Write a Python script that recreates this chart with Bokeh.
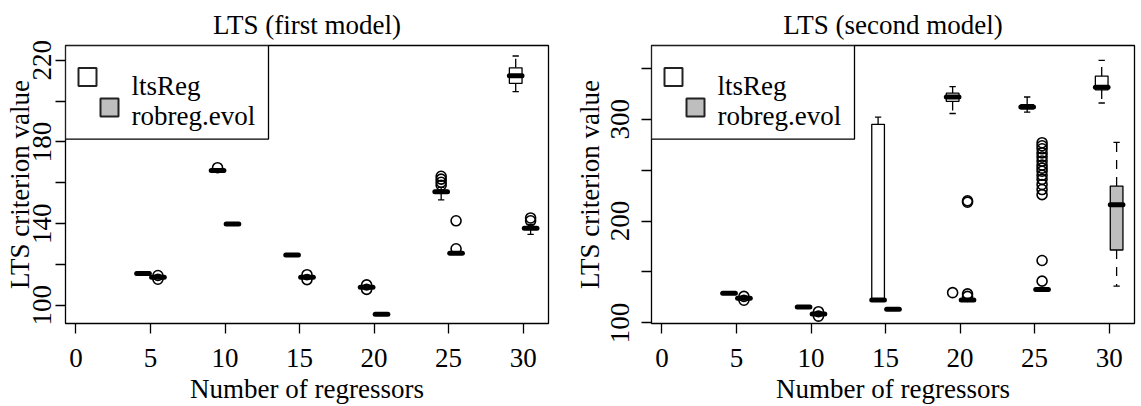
import math
from bokeh.plotting import figure
from bokeh.layouts import row
from bokeh.models import Range1d, FixedTicker, ColumnDataSource
from bokeh.transform import dodge
from bokeh.embed import file_html
from bokeh.resources import INLINE
from bokeh.core.properties import value

# ---------------- data ----------------
regressors = [5, 10, 15, 20, 25, 30]
series_names = ["ltsReg", "robreg.evol"]
titles = ["LTS (first model)", "LTS (second model)"]
x_label = "Number of regressors"
y_label = "LTS criterion value"
x_ticks = [0, 5, 10, 15, 20, 25, 30]

# first model, ltsReg
m1_lts_low = [115.5, 165.8, 124.5, 108.7, 151.6, 204.7]
m1_lts_q1 = [115.55, 165.9, 124.55, 108.8, 155.0, 208.7]
m1_lts_med = [115.6, 166.0, 124.6, 108.9, 155.6, 212.4]
m1_lts_q3 = [115.65, 166.1, 124.65, 109.0, 156.3, 216.3]
m1_lts_up = [115.7, 166.2, 124.7, 109.1, 157.8, 222.1]
m1_lts_out = [[], [167.4], [], [110.0, 107.8], [158.8, 160.3, 161.8, 163.2], []]
# first model, robreg.evol
m1_rob_low = [113.3, 139.7, 113.4, 95.5, 125.2, 134.7]
m1_rob_q1 = [113.5, 139.75, 113.6, 95.55, 125.4, 137.2]
m1_rob_med = [113.7, 139.8, 113.7, 95.6, 125.5, 137.8]
m1_rob_q3 = [113.9, 139.85, 113.8, 95.65, 125.7, 138.5]
m1_rob_up = [114.1, 139.9, 114.0, 95.7, 125.9, 139.6]
m1_rob_out = [[114.6, 112.8], [], [115.0, 112.6], [], [127.7, 141.4], [141.4, 142.8]]

# second model, ltsReg
m2_lts_low = [128.8, 115.3, 122.4, 305.7, 307.0, 316.0]
m2_lts_q1 = [128.9, 115.4, 122.6, 317.6, 310.2, 328.9]
m2_lts_med = [129.0, 115.5, 122.6, 321.9, 312.2, 331.5]
m2_lts_q3 = [129.1, 115.6, 295.1, 325.7, 314.4, 342.5]
m2_lts_up = [129.2, 115.7, 302.1, 332.1, 321.9, 357.9]
m2_lts_out = [[], [], [], [129.7], [], []]
# second model, robreg.evol
m2_rob_low = [123.6, 108.0, 113.3, 122.2, 132.5, 136.2]
m2_rob_q1 = [123.9, 108.4, 113.4, 122.4, 132.7, 171.6]
m2_rob_med = [124.2, 108.7, 113.5, 122.6, 132.9, 216.1]
m2_rob_q3 = [124.5, 109.0, 113.6, 122.8, 133.1, 234.4]
m2_rob_up = [124.8, 109.4, 113.7, 123.0, 133.3, 277.4]
m2_rob_out = [[126.0, 122.3], [111.0, 106.6], [], [126.0, 128.5, 218.6, 220.0],
              [141.0, 161.3, 226.0, 231.0, 236.0, 241.0, 245.0, 249.0, 252.0,
               255.0, 259.0, 263.0, 267.0, 271.0, 274.0, 277.0], []]

m1_y_range = (91.1, 227.25)
m2_y_range = (99.4, 372.5)
m1_y_ticks = [100, 120, 140, 160, 180, 200, 220]
m1_y_labels = [100, 140, 180, 220]
m2_y_ticks = [100, 150, 200, 250, 300, 350]
m2_y_labels = [100, 200, 300]

# ---------------- style ----------------
FONT = "Liberation Serif"
FS = "27px"
X_RANGE = (-0.7, 31.7)
FRAME_W, FRAME_H = 483, 282
BOX_W = 0.85
FILLS = ["white", "#bebebe"]
OFFSETS = [-0.5, 0.5]


def make_plot(title, stats, y_range, y_ticks, y_labels, width, bl, br,
              ylab_standoff, ytick_standoff):
    p = figure(width=width, height=406, x_range=Range1d(*X_RANGE),
               y_range=Range1d(*y_range), output_backend="svg",
               toolbar_location=None, min_border_left=bl, min_border_right=br,
               min_border_top=45, min_border_bottom=79)
    ppx = FRAME_W / (X_RANGE[1] - X_RANGE[0])
    ppy = FRAME_H / (y_range[1] - y_range[0])

    def dx(px):  # frame-left pixel offset -> data x
        return X_RANGE[0] + px / ppx

    def dy(px):  # frame-top pixel offset -> data y
        return y_range[1] - px / ppy

    p.title.text = title
    p.title.align = "center"
    p.title.text_font = FONT
    p.title.text_font_size = FS
    p.title.text_font_style = "normal"
    p.title.text_color = "black"
    p.title.standoff = 11

    p.xgrid.visible = False
    p.ygrid.visible = False
    p.outline_line_color = "black"
    p.outline_line_width = 1.3
    p.background_fill_color = "white"
    p.border_fill_color = "white"

    p.xaxis.ticker = FixedTicker(ticks=x_ticks)
    p.yaxis.ticker = FixedTicker(ticks=y_ticks)
    p.yaxis.major_label_overrides = {t: "" for t in y_ticks if t not in y_labels}
    for ax in (p.xaxis[0], p.yaxis[0]):
        ax.axis_line_color = None
        ax.major_tick_line_color = "black"
        ax.major_tick_line_width = 1.3
        ax.major_tick_out = 10
        ax.major_tick_in = 0
        ax.minor_tick_line_color = None
        ax.major_label_text_font = FONT
        ax.major_label_text_font_size = FS
        ax.major_label_text_color = "black"
        ax.axis_label_text_font = FONT
        ax.axis_label_text_font_size = FS
        ax.axis_label_text_font_style = "normal"
        ax.axis_label_text_color = "black"
    p.xaxis.axis_label = x_label
    p.yaxis.axis_label = y_label
    p.xaxis.major_label_standoff = 15
    p.xaxis.axis_label_standoff = 4
    p.yaxis.major_label_orientation = "parallel"
    p.yaxis.major_label_standoff = ytick_standoff
    p.yaxis.axis_label_standoff = ylab_standoff

    # boxplots
    for k in range(2):
        low, q1, med, q3, up, outs = stats[k]
        xs = [r + OFFSETS[k] for r in regressors]
        src = ColumnDataSource(dict(x=xs, low=low, q1=q1, med=med, q3=q3, up=up))
        p.segment(x0="x", y0="q3", x1="x", y1="up", source=src,
                  line_color="black", line_width=1.3, line_dash="9 8")
        p.segment(x0="x", y0="q1", x1="x", y1="low", source=src,
                  line_color="black", line_width=1.3, line_dash="9 8")
        for col in ("up", "low"):
            p.segment(x0=dodge("x", -BOX_W / 4, range=p.x_range), y0=col,
                      x1=dodge("x", BOX_W / 4, range=p.x_range), y1=col,
                      source=src, line_color="black", line_width=1.3)
        p.vbar(x="x", width=BOX_W, bottom="q1", top="q3", source=src,
               fill_color=FILLS[k], line_color="black", line_width=1.3)
        p.segment(x0=dodge("x", -BOX_W / 2, range=p.x_range), y0="med",
                  x1=dodge("x", BOX_W / 2, range=p.x_range), y1="med",
                  source=src, line_color="black", line_width=5, line_cap="round")
        ox, oy = [], []
        for xv, lst in zip(xs, outs):
            for v in lst:
                ox.append(xv)
                oy.append(v)
        p.scatter(ox, oy, marker="circle", size=10, fill_color=None,
                  line_color="black", line_width=1.6)

    # legend (drawn by hand, as in the original)
    p.quad(left=[dx(0)], right=[dx(203)], top=[dy(0)], bottom=[dy(95)],
           fill_color="white", line_color="black", line_width=1.3)
    p.scatter([dx(22), dx(44)], [dy(32), dy(63)], marker="square", size=18,
              fill_color=FILLS, line_color="#222222", line_width=2)
    p.text([dx(66), dx(66)], [dy(41), dy(72)], text=series_names,
           text_font=value(FONT), text_font_size=FS, text_color="black",
           text_align="left", text_baseline="alphabetic")
    return p


stats1 = [
    (m1_lts_low, m1_lts_q1, m1_lts_med, m1_lts_q3, m1_lts_up, m1_lts_out),
    (m1_rob_low, m1_rob_q1, m1_rob_med, m1_rob_q3, m1_rob_up, m1_rob_out),
]
stats2 = [
    (m2_lts_low, m2_lts_q1, m2_lts_med, m2_lts_q3, m2_lts_up, m2_lts_out),
    (m2_rob_low, m2_rob_q1, m2_rob_med, m2_rob_q3, m2_rob_up, m2_rob_out),
]

p1 = make_plot(titles[0], stats1, m1_y_range, m1_y_ticks, m1_y_labels, 570, 65, 22, -4, 4)
p2 = make_plot(titles[1], stats2, m2_y_range, m2_y_ticks, m2_y_labels, 571, 81, 7, 4, 12)

layout = row(p1, p2, spacing=0)
open("out.html", "w").write(file_html(layout, INLINE))
